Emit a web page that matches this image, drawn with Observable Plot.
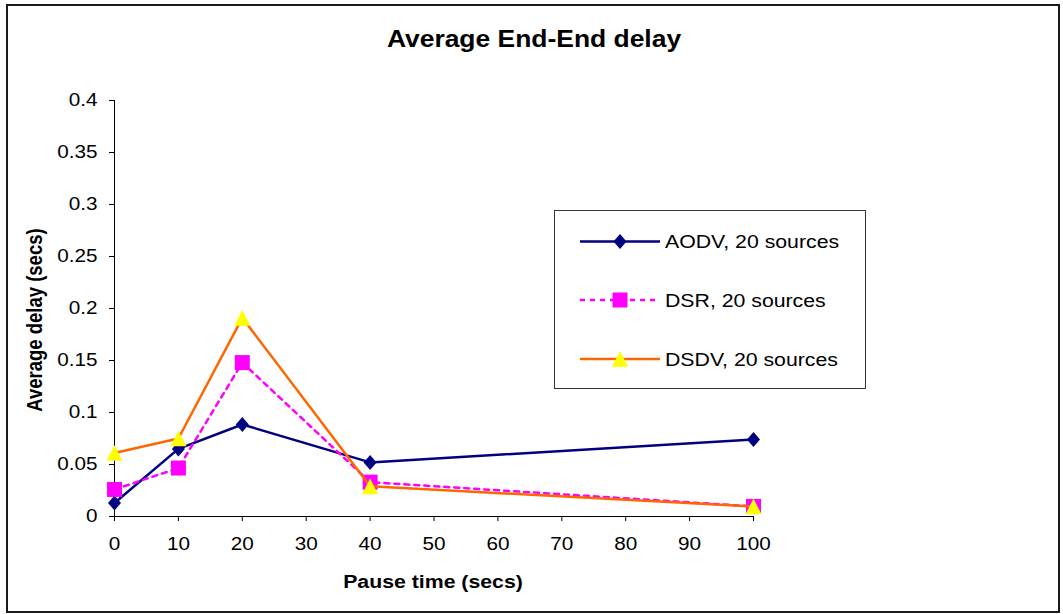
<!DOCTYPE html>
<html>
<head>
<meta charset="utf-8">
<script src="https://cdn.jsdelivr.net/npm/d3@7"></script>
<script src="https://cdn.jsdelivr.net/npm/@observablehq/plot@0.6"></script>
<style>
  html, body { margin: 0; padding: 0; background: #fff; }
  #chart { position: relative; width: 1063px; height: 614px; font-family: "Liberation Sans", Arial, sans-serif; }
  #chart > svg { position: absolute; left: 0; top: 0; }
</style>
</head>
<body>
<div id="chart"></div>
<script>
// Pause time (secs) on the x axis
const pauseTimes = [0, 10, 20, 40, 100];
// Average end-to-end delay (secs) per protocol
const aodvDelay = [0.013, 0.065, 0.0885, 0.052, 0.074];
const dsrDelay  = [0.026, 0.0466, 0.148, 0.033, 0.0097];
const dsdvDelay = [0.061, 0.075, 0.191, 0.029, 0.0097];

const seriesNames = ["AODV, 20 sources", "DSR, 20 sources", "DSDV, 20 sources"];
const xTicks = [0, 10, 20, 30, 40, 50, 60, 70, 80, 90, 100];
const yTicks = [0, 0.05, 0.1, 0.15, 0.2, 0.25, 0.3, 0.35, 0.4];

const titleText = "Average End-End delay";
const xLabelText = "Pause time (secs)";
const yLabelText = "Average delay (secs)";

// Text in this chart is drawn slightly wide
const SX = 1.15;

// Marker shapes, sized from the radius Plot passes in (size = PI * r^2)
const diamondSym = { draw(ctx, size) { const r = Math.sqrt(size / Math.PI); const w = r * 0.87; ctx.moveTo(0, -r); ctx.lineTo(w, 0); ctx.lineTo(0, r); ctx.lineTo(-w, 0); ctx.closePath(); } };
const squareSym  = { draw(ctx, size) { const r = Math.sqrt(size / Math.PI); ctx.rect(-r, -r, 2 * r, 2 * r); } };
const triangleSym = { draw(ctx, size) { const r = Math.sqrt(size / Math.PI); const w = r * 1.03; ctx.moveTo(0, -r); ctx.lineTo(w, r); ctx.lineTo(-w, r); ctx.closePath(); } };

const series = [
  { name: seriesNames[0], values: aodvDelay, stroke: "#000080", fill: "#000080", dash: null, symbol: diamondSym, r: 7.5 },
  { name: seriesNames[1], values: dsrDelay,  stroke: "#FF00FF", fill: "#FF00FF", dash: "5,5", symbol: squareSym, r: 7.5 },
  { name: seriesNames[2], values: dsdvDelay, stroke: "#FF6600", fill: "#FFFF00", dash: null, symbol: triangleSym, r: 7.8 }
];

const marks = [
  Plot.ruleX([0], { stroke: "#000", strokeWidth: 1 }),
  Plot.ruleY([0], { stroke: "#000", strokeWidth: 1 }),
  Plot.axisX({ ticks: xTicks, tickSize: 5, tickPadding: 16, label: null, stroke: "#000", fill: "#000" }),
  Plot.axisY({ ticks: yTicks, tickSize: 5, tickPadding: 12, label: null, stroke: "#000", fill: "#000",
               tickFormat: d => String(+d.toFixed(2)) })
];
for (const s of series) {
  const rows = pauseTimes.map((t, i) => ({ t, v: s.values[i] }));
  marks.push(Plot.line(rows, { x: "t", y: "v", stroke: s.stroke, strokeWidth: 2.5,
                               strokeDasharray: s.dash ?? undefined, curve: "linear" }));
  marks.push(Plot.dot(rows, { x: "t", y: "v", symbol: s.symbol, r: s.r, fill: s.fill, stroke: "none" }));
}

const plot = Plot.plot({
  width: 1063,
  height: 614,
  marginLeft: 114,
  marginRight: 310,
  marginTop: 100,
  marginBottom: 98,
  x: { type: "linear", domain: [0, 100] },
  y: { type: "linear", domain: [0, 0.4] },
  style: { fontSize: "18px", fontFamily: "'Liberation Sans', Arial, sans-serif", color: "#000", background: "#fff" },
  marks
});

const chart = document.getElementById("chart");
chart.appendChild(plot);

// widen the tick labels (anchoring is kept by text-anchor)
plot.querySelectorAll("text").forEach(el => {
  const w = el.getComputedTextLength();
  if (w > 0) {
    el.setAttribute("textLength", (w * SX).toFixed(2));
    el.setAttribute("lengthAdjust", "spacingAndGlyphs");
  }
});

// Overlay: frame, titles and legend
const over = d3.create("svg").attr("width", 1063).attr("height", 614)
  .style("font-family", "'Liberation Sans', Arial, sans-serif").style("pointer-events", "none");

over.append("rect").attr("x", 7).attr("y", 5).attr("width", 1052).attr("height", 607)
  .attr("fill", "none").attr("stroke", "#1a1a1a").attr("stroke-width", 2);

function label(x, y, str, size, weight, anchor, extra = "") {
  over.append("text")
    .attr("transform", `translate(${x},${y}) scale(${SX},1)${extra}`)
    .attr("text-anchor", anchor).attr("font-size", size).attr("font-weight", weight)
    .attr("fill", "#000").text(str);
}
label(534, 47, titleText, 23, "bold", "middle");
label(433, 588, xLabelText, 18.5, "bold", "middle");
label(42, 320, yLabelText, 18.5, "bold", "middle", " rotate(-90)");

// Legend box
const lg = over.append("g");
lg.append("rect").attr("x", 554.5).attr("y", 210.5).attr("width", 311).attr("height", 178)
  .attr("fill", "#fff").attr("stroke", "#333").attr("stroke-width", 1);
const rowY = [241.5, 300, 359];
series.forEach((s, i) => {
  const y = rowY[i];
  lg.append("line").attr("x1", 580).attr("x2", 660).attr("y1", y).attr("y2", y)
    .attr("stroke", s.stroke).attr("stroke-width", 2.5).attr("stroke-dasharray", s.dash);
  const p = d3.path();
  s.symbol.draw(p, Math.PI * s.r * s.r);
  lg.append("path").attr("d", p.toString()).attr("transform", `translate(620,${y})`).attr("fill", s.fill);
  lg.append("text").attr("transform", `translate(665,${y + 6.5}) scale(${SX},1)`)
    .attr("font-size", 18.5).attr("fill", "#000").text(s.name);
});

chart.appendChild(over.node());
</script>
</body>
</html>
